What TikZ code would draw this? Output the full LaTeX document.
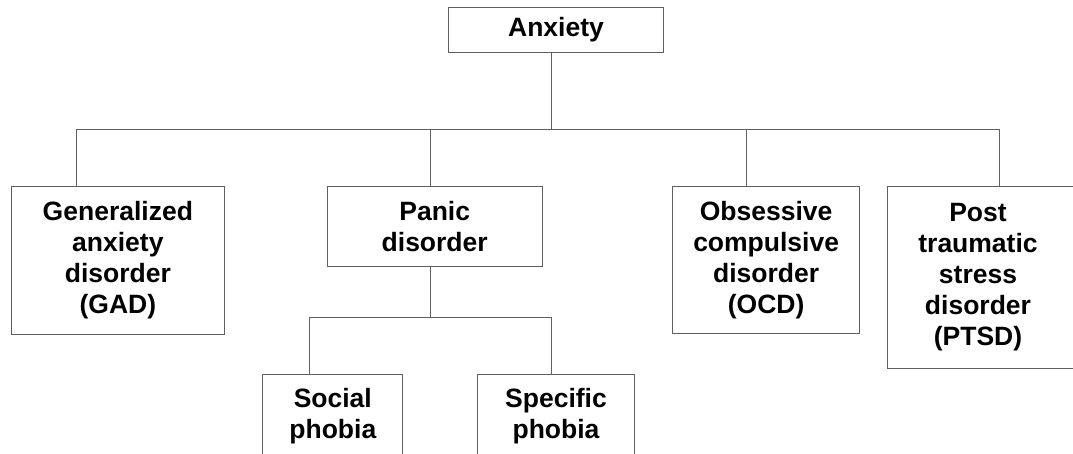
\documentclass[tikz,border=0pt]{standalone}
\usepackage{fontspec}
\setmainfont{Liberation Sans}
\definecolor{linegray}{RGB}{95,95,95}
\begin{document}
\begin{tikzpicture}[x=1pt,y=-1pt,
  box/.style={draw=linegray, line width=1pt, anchor=north west, inner sep=0pt,
    align=center, font=\bfseries\fontsize{26.5}{31}\selectfont},
  txt/.style={inner sep=0pt, align=center, font=\bfseries\fontsize{26.5}{31}\selectfont},
  conn/.style={draw=linegray, line width=1pt}]
\useasboundingbox (0,0) rectangle (1073,453);
\fill[white] (0,0) rectangle (1073,453);

\node[box, minimum width=214.4pt, minimum height=45pt] (anx) at (448.3,6.7) {Anxiety};
\node[box, minimum width=213.3pt, minimum height=148.3pt] (gad) at (10.7,185.7)
  {Generalized\\anxiety\\disorder\\(GAD)};
\node[box, minimum width=215pt, minimum height=80pt] (panic) at (326.7,185.7)
  {Panic\\disorder};
\node[box, minimum width=186.7pt, minimum height=147.6pt] (ocd) at (672.3,185.7)
  {Obsessive\\compulsive\\disorder\\(OCD)};
\node[box, minimum width=200pt, minimum height=182.6pt] (ptsd) at (886.7,185.7) {};
\node[txt] (ptsdt) at (978,277) {Post\\traumatic\\stress\\disorder\\(PTSD)};
\node[box, minimum width=140pt, minimum height=84pt] (social) at (262.3,374)
  {Social\\phobia};
\node[box, minimum width=157.6pt, minimum height=84pt] (specific) at (476.7,374)
  {Specific\\phobia};

\coordinate (b1) at (551,129);
\coordinate (bL) at (76,129);
\coordinate (bR) at (999,129);
\coordinate (bP) at (430,129);
\coordinate (bO) at (746.7,129);
\draw[conn] (anx.south -| b1) -- (b1);
\draw[conn] (bL) -- (bR);
\draw[conn] (bL) -- (bL |- gad.north);
\draw[conn] (bP) -- (bP |- panic.north);
\draw[conn] (bO) -- (bO |- ocd.north);
\draw[conn] (bR) -- (bR |- ptsd.north);

\coordinate (c) at (430,317.3);
\coordinate (cL) at (309,317.3);
\coordinate (cR) at (551,317.3);
\draw[conn] (panic.south -| c) -- (c);
\draw[conn] (cL) -- (cR);
\draw[conn] (cL) -- (cL |- social.north);
\draw[conn] (cR) -- (cR |- specific.north);
\end{tikzpicture}
\end{document}
